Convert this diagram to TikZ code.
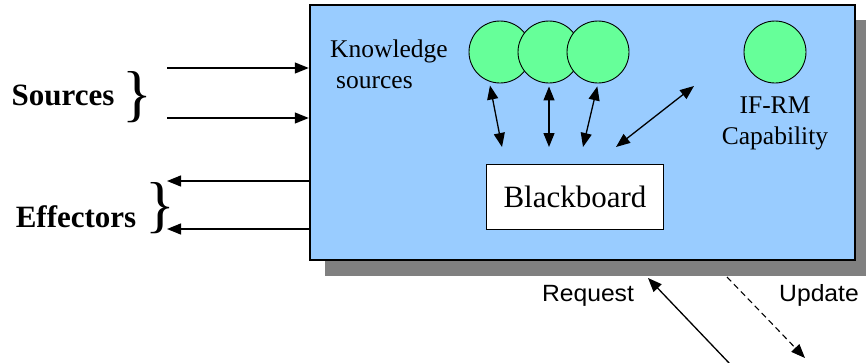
\documentclass[tikz,border=0pt]{standalone}
\usepackage{fontspec}
\setmainfont{Liberation Serif}
\newfontfamily\labelfont[FakeStretch=1.05]{Liberation Sans}
\usepackage{xcolor}
\usetikzlibrary{arrows.meta, positioning}

\definecolor{boardblue}{RGB}{153,204,255}
\definecolor{ksgreen}{RGB}{102,255,153}
\definecolor{shadowgray}{RGB}{128,128,128}

\begin{document}
\begin{tikzpicture}[x=1pt, y=-1pt,
        system/.style={draw, line width=2.5pt, fill=boardblue, minimum width=545pt, minimum height=255pt, inner sep=0pt},
        shadowbox/.style={fill=shadowgray, minimum width=541pt, minimum height=256pt, inner sep=0pt},
        ks/.style={draw, circle, fill=ksgreen, minimum size=62pt, inner sep=0pt, line width=0.9pt},
        board/.style={draw, fill=white, line width=1.5pt, minimum width=177pt, minimum height=65pt, font=\fontsize{31}{36}\selectfont},
        txt/.style={inner sep=0pt, align=center, font=\fontsize{25.5}{31}\selectfont},
        side/.style={inner sep=0pt, font=\fontsize{31}{36}\selectfont\bfseries},
        brace/.style={inner sep=0pt, font=\fontsize{62}{62}\selectfont},
        io/.style={inner sep=0pt, font=\labelfont\fontsize{23.5}{28}\selectfont},
        arrow/.style={-{Triangle[length=14pt, width=11pt]}, line width=1.3pt},
        biarrow/.style={{Triangle[length=14pt, width=11pt]}-{Triangle[length=14pt, width=11pt]}, line width=1.3pt},
        dashedarrow/.style={dashed, dash pattern=on 6pt off 4pt, -{Triangle[length=14pt, width=11pt]}, line width=1.1pt}
    ]
        \useasboundingbox (0,0) rectangle (867,362);

        % Nodes
            \node[shadowbox] (shadow) at (595.5,148) {};
            \node[system] (system) at (582.5,132.5) {};
            \node[ks] (ks1) at (500,52) {};
            \node[ks] (ks2) at (549,52) {};
            \node[ks] (ks3) at (598,52) {};
            \node[ks] (ifrm) at (775,52) {};
            \node[board] (board) at (575,197) {Blackboard};

            \node[txt, align=left, anchor=west] (kslabel) at (330,64) {Knowledge\\\hspace*{6pt}sources};
            \node[txt, below=13pt of ifrm] (ifrmlabel) {IF-RM\\Capability};

            \node[side, anchor=base] (sources) at (63,105) {Sources};
            \node[brace] (srcbrace) at (137,97) {\}};
            \node[side, anchor=base] (effectors) at (76,227) {Effectors};
            \node[brace] (effbrace) at (160,208) {\}};

            \node[io, anchor=base] (request) at (588,301) {Request};
            \node[io, anchor=base] (update) at (819,301) {Update};

            % Free ends
            \coordinate (src1) at (167,68);
            \coordinate (src2) at (167,118);
            \coordinate (eff1) at (167,181);
            \coordinate (eff2) at (167,229);
            \coordinate (bb1) at (502,147);
            \coordinate (bb2) at (549,147);
            \coordinate (bb3) at (583,147);
            \coordinate (bb4) at (616,147);
            \coordinate (cap) at (694,86);
            \coordinate (reqtail) at (730,364);
            \coordinate (updtip) at (805,358);

            % Arrows
            \draw[arrow] (src1) -- (src1 -| system.west);
            \draw[arrow] (src2) -- (src2 -| system.west);
            \draw[arrow] (eff1 -| system.west) -- (eff1);
            \draw[arrow] (eff2 -| system.west) -- (eff2);
            \draw[biarrow, shorten <=4pt] (ks1.250) -- (bb1);
            \draw[biarrow, shorten <=3pt] (ks2.south) -- (bb2);
            \draw[biarrow, shorten <=3pt] (ks3.south) -- (bb3);
            \draw[biarrow] (cap) -- (bb4);
            \draw[arrow] (reqtail) -- (648,278);
            \draw[dashedarrow] (727,277) -- (updtip);
    \end{tikzpicture}
\end{document}
